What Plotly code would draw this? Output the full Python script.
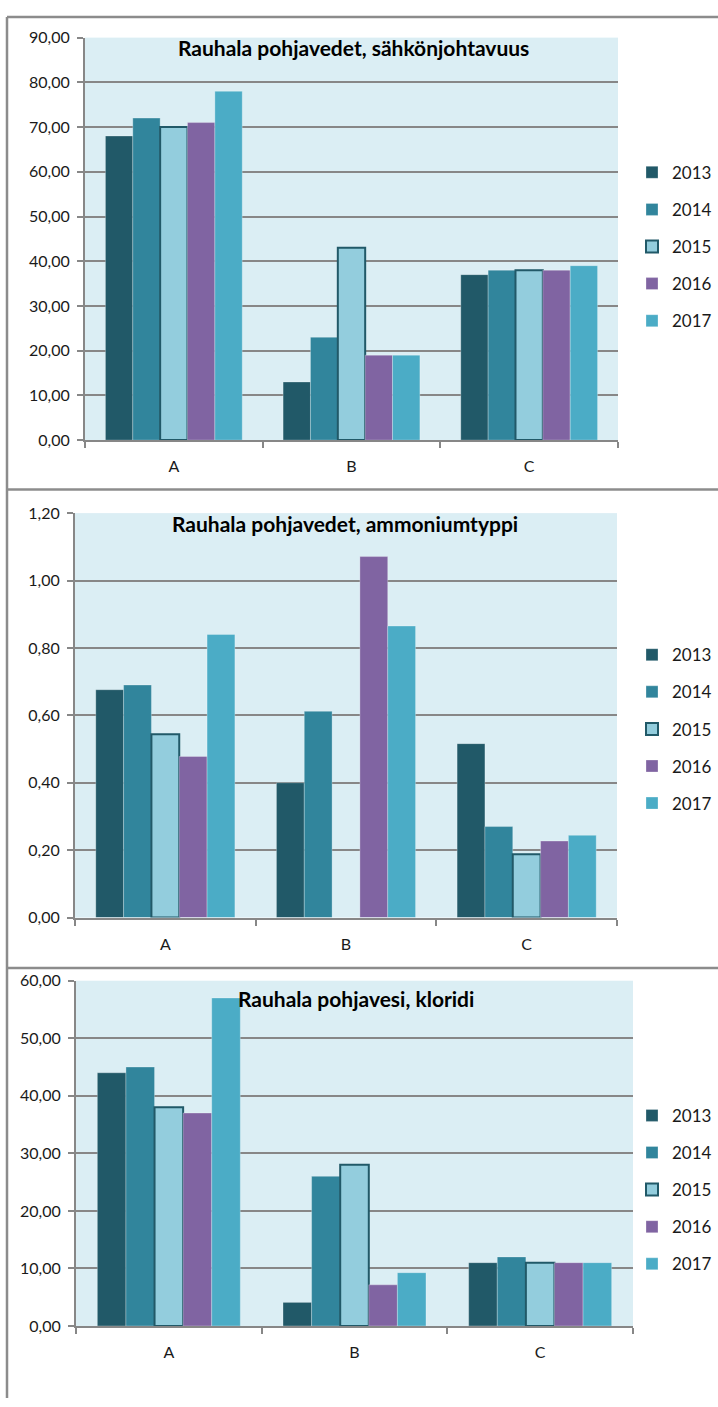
import plotly.graph_objects as go

W, H = 718, 1407

categories = ["A", "B", "C"]
years = ["2013", "2014", "2015", "2016", "2017"]
colors = ["#215968", "#31859C", "#93CDDD", "#8064A2", "#4BACC6"]

# Panel 1: sähkönjohtavuus
cond_2013 = [68, 13, 37]
cond_2014 = [72, 23, 38]
cond_2015 = [70, 43, 38]
cond_2016 = [71, 19, 38]
cond_2017 = [78, 19, 39]

# Panel 2: ammoniumtyppi
amm_2013 = [0.676, 0.40, 0.516]
amm_2014 = [0.690, 0.612, 0.270]
amm_2015 = [0.544, None, 0.188]
amm_2016 = [0.478, 1.071, 0.227]
amm_2017 = [0.840, 0.865, 0.244]

# Panel 3: kloridi
cl_2013 = [44, 4.1, 11]
cl_2014 = [45, 26, 12]
cl_2015 = [38, 28, 11]
cl_2016 = [37, 7.15, 11]
cl_2017 = [57, 9.26, 11]

titles = ["Rauhala pohjavedet, sähkönjohtavuus",
          "Rauhala pohjavedet, ammoniumtyppi",
          "Rauhala pohjavesi, kloridi"]

panels = [
    [cond_2013, cond_2014, cond_2015, cond_2016, cond_2017],
    [amm_2013, amm_2014, amm_2015, amm_2016, amm_2017],
    [cl_2013, cl_2014, cl_2015, cl_2016, cl_2017],
]

FONT = "Lato"
GRID = "#878787"

def px(x):
    return x / W

def py(y):
    return 1 - y / H

fig = go.Figure()

# plot area geometry (pixels): x0, x1, ytop, ybottom
geo = [
    (85, 618, 28, 436),
    (75, 617, 510, 920),
    (76, 633, 984, 1334),
]
ranges = [(0, 90, 10), (0, 1.2, 0.2), (0, 60, 10)]
legend_mid = [240, 729, 1196]
title_pos = [(353, 38), (345, 521), (356, 1002)]

for p, series in enumerate(panels):
    sfx = "" if p == 0 else str(p + 1)
    for i, vals in enumerate(series):
        lw = 2 if i == 2 else 0.8
        lc = "#215968" if i == 2 else "rgba(255,255,255,0.35)"
        fig.add_trace(go.Bar(
            x=categories, y=vals, name=years[i],
            marker=dict(color=colors[i], line=dict(color=lc, width=lw)),
            xaxis="x" + sfx, yaxis="y" + sfx,
            legend="legend" + sfx,
            legendgroup=f"p{p}_{i}",
            offsetgroup=str(i),
        ))

layout = dict(
    width=W, height=H,
    margin=dict(l=0, r=0, t=0, b=0),
    paper_bgcolor="white",
    plot_bgcolor="#DBEEF4",
    barmode="group",
    bargap=0.23,
    bargroupgap=0,
    separators=", ",
    font=dict(family=FONT, size=16, color="#1a1a1a"),
)

for p in range(3):
    sfx = "" if p == 0 else str(p + 1)
    x0, x1, yt, yb = geo[p]
    r0, r1, dt = ranges[p]
    layout["xaxis" + sfx] = dict(
        domain=[px(x0), px(x1)], anchor="y" + sfx,
        showline=True, linecolor=GRID, linewidth=2,
        ticks="outside", tickson="boundaries", ticklen=6, tickcolor=GRID, tickwidth=2,
        showgrid=False, tickfont=dict(family=FONT, size=16, color="#1a1a1a"),
        ticklabelstandoff=11,
    )
    layout["yaxis" + sfx] = dict(
        domain=[py(yb), py(yt)], anchor="x" + sfx,
        range=[r0, r1], dtick=dt, tick0=0, tickformat=".2f",
        showline=True, linecolor=GRID, linewidth=2,
        ticks="outside", ticklen=6, tickcolor=GRID, tickwidth=2,
        showgrid=True, gridcolor=GRID, gridwidth=2, zeroline=False,
        tickfont=dict(family=FONT, size=16, color="#1a1a1a"),
        ticklabelstandoff=4,
    )
    layout["legend" + sfx] = dict(
        x=px(632), y=py(legend_mid[p]), xanchor="left", yanchor="middle",
        font=dict(family=FONT, size=17, color="#1a1a1a"),
        tracegroupgap=12, bgcolor="rgba(0,0,0,0)",
        itemwidth=30,
    )

fig.update_layout(**layout)

for p in range(3):
    tx, ty = title_pos[p]
    fig.add_annotation(
        text="<b>" + titles[p] + "</b>", x=px(tx), y=py(ty),
        xref="paper", yref="paper", xanchor="center", yanchor="middle",
        showarrow=False, font=dict(family=FONT, size=21, color="#000000"),
    )

# frame lines around panels
BORDER = "#8C8C8C"
for (xa, ya, xb, yb) in [(7, 7, 718, 7), (7, 7, 7, 1407), (7, 486, 718, 486), (7, 971, 718, 971)]:
    fig.add_shape(type="line", xref="paper", yref="paper",
                  x0=px(xa), y0=py(ya), x1=px(xb), y1=py(yb),
                  line=dict(color=BORDER, width=2.5))

fig.write_html(
    "out.html",
    config={"displayModeBar": False},
    post_script="document.body.style.margin='0';document.body.style.overflow='hidden';",
)
